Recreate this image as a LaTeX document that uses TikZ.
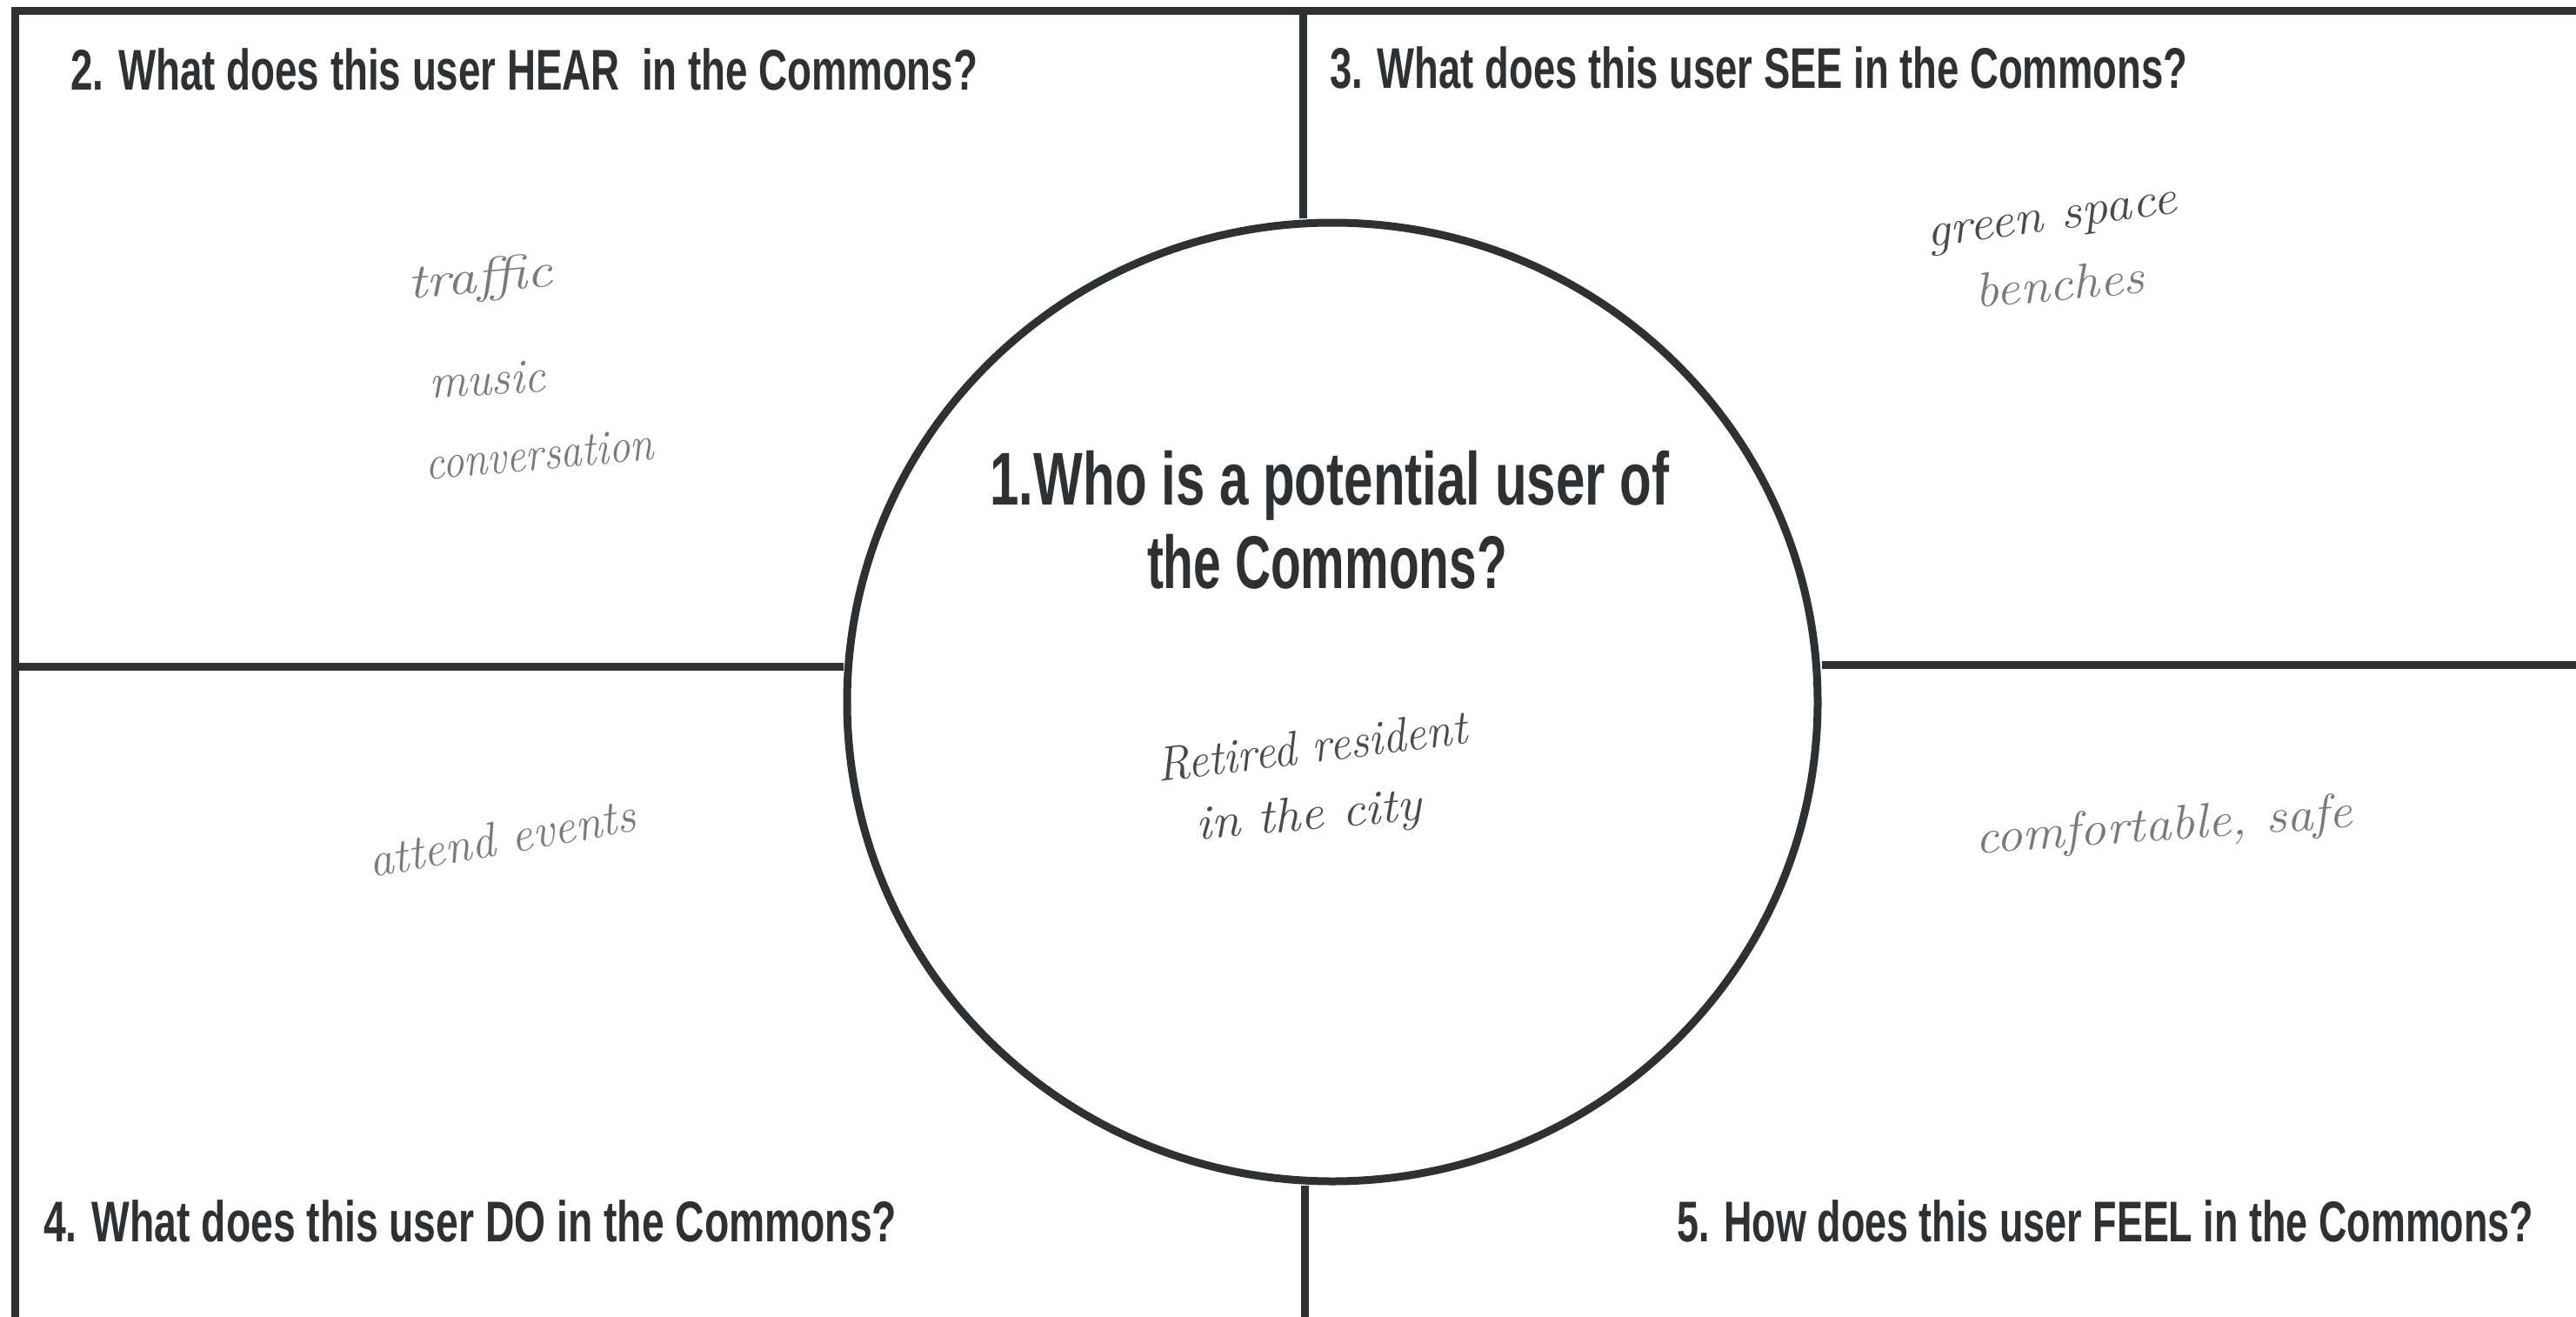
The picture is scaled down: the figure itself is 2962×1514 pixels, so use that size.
\documentclass[tikz,border=0pt]{standalone}
\usepackage{graphicx}
\usepackage{fontspec}
\usetikzlibrary{shapes.geometric}
\newfontfamily\headfont{Liberation Sans}
\definecolor{ink}{HTML}{2D3133}
\definecolor{pencil}{HTML}{7A7A7A}
\definecolor{pen}{HTML}{4A4A4A}
\newcommand{\fitw}[2]{\resizebox{#1}{\height}{#2}}
\tikzset{
  frame/.style={draw=ink, line width=9pt},
  head/.style={anchor=base west, inner sep=0pt, text=ink, font=\headfont\bfseries\fontsize{66}{66}\selectfont},
  center/.style={anchor=base, inner sep=0pt, text=ink, font=\headfont\bfseries\fontsize{86}{86}\selectfont},
  hand/.style={inner sep=0pt, font=\itshape\fontsize{56}{56}\selectfont}
}
\begin{document}
\begin{tikzpicture}[x=1pt,y=-1pt]
\useasboundingbox[fill=white] (0,0) rectangle (2962,1514);
% frame corners
\coordinate (tl) at (17,13);
\coordinate (tr) at (2962,13);
\coordinate (bl) at (17,1514);
\coordinate (ut) at (1498,13);
\coordinate (lb) at (1500,1514);
\coordinate (lh) at (17,766);
\coordinate (rh) at (2962,764);
% circle
\node[ellipse, frame, minimum width=1116pt, minimum height=1102pt, inner sep=0pt] (c) at (1532,807) {};
\draw[frame, line cap=rect] (bl) -- (tl) -- (tr);
\draw[frame] (ut) -- (ut |- c.north);
\draw[frame] (lb) -- (lb |- c.south);
\draw[frame] (lh) -- (lh -| c.west);
\draw[frame] (rh) -- (rh -| c.east);
% headings
\node[head] (h2) at (81,104) {\fitw{1043pt}{2. What does this user HEAR~ in the Commons?}};
\node[head] (h3) at (1529,102) {\fitw{986pt}{3. What does this user SEE in the Commons?}};
\node[head] (h4) at (50,1427) {\fitw{981pt}{4. What does this user DO in the Commons?}};
\node[head] (h5) at (1928,1427) {\fitw{985pt}{5. How does this user FEEL in the Commons?}};
\node[center] (q1a) at (1529,580) {\fitw{781pt}{1.Who is a potential user of}};
\node[center] (q1b) at (1526,676) {\fitw{414pt}{the Commons?}};
% handwritten answers
\node[hand, text=pencil, rotate=5] (a1) at (552,322) {\fitw{167pt}{traffic}};
\node[hand, text=pencil, rotate=3] (a2) at (560,436) {\fitw{134pt}{music}};
\node[hand, text=pencil, rotate=5] (a3) at (620,522) {\fitw{263pt}{conversation}};
\node[hand, text=pen, rotate=8] (b1) at (2360,258) {\fitw{289pt}{green space}};
\node[hand, text=pencil, rotate=5] (b2) at (2368,326) {\fitw{195pt}{benches}};
\node[hand, text=pencil, rotate=10] (d1) at (577,963) {\fitw{311pt}{attend events}};
\node[hand, text=pen, rotate=7] (u1) at (1508,858) {\fitw{359pt}{Retired resident}};
\node[hand, text=pen, rotate=5] (u2) at (1505,940) {\fitw{261pt}{in the city}};
\node[hand, text=pencil, rotate=4] (f1) at (2488,952) {\fitw{434pt}{comfortable, safe}};
\end{tikzpicture}
\end{document}
